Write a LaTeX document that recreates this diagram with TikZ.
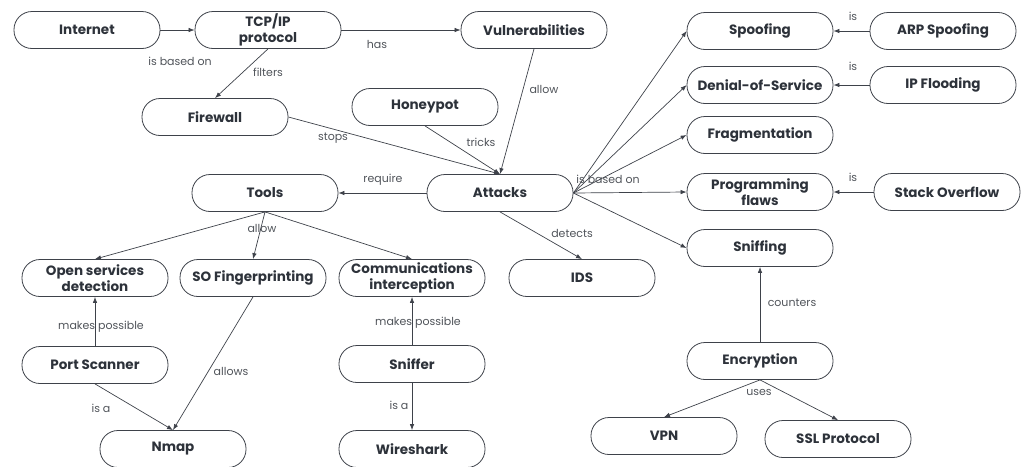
\documentclass[tikz,border=0pt]{standalone}
\usepackage{fontspec}
\setmainfont{Poppins}
\usepackage{tikz}
\usetikzlibrary{arrows.meta}

\definecolor{inkline}{RGB}{62,66,74}
\definecolor{inktext}{RGB}{45,50,58}
\definecolor{labeltext}{RGB}{80,84,90}

\begin{document}
\begin{tikzpicture}[x=1pt, y=-1pt,
    concept/.style={draw=inkline, line width=0.8pt, rounded corners=18pt,
        minimum width=146pt, minimum height=37pt, inner sep=1pt, align=center,
        text=inktext, font=\bfseries\fontsize{13.5}{15.5}\selectfont},
    lbl/.style={text=labeltext, font=\fontsize{11}{12}\selectfont, inner sep=1pt},
    link/.style={draw=inkline, line width=0.7pt, -{Latex[length=6pt,width=4.5pt]}}]
    \useasboundingbox (0,0) rectangle (1027,466);

    % concepts
    \node[concept] (internet) at (87, 30) {Internet};
    \node[concept] (tcp) at (268, 30) {TCP/IP\\protocol};
    \node[concept] (vuln) at (534, 30) {Vulnerabilities};
    \node[concept] (firewall) at (215, 117) {Firewall};
    \node[concept] (honeypot) at (425, 107) {Honeypot};
    \node[concept] (attacks) at (500, 193) {Attacks};
    \node[concept] (tools) at (265, 193) {Tools};
    \node[concept] (osd) at (95, 278) {Open services\\detection};
    \node[concept] (sofp) at (253, 278) {SO Fingerprinting};
    \node[concept] (comm) at (412, 278) {Communications\\interception};
    \node[concept] (ids) at (582, 278) {IDS};
    \node[concept] (portscan) at (95, 365) {Port Scanner};
    \node[concept] (sniffer) at (412, 364) {Sniffer};
    \node[concept] (nmap) at (173, 449) {Nmap};
    \node[concept] (wireshark) at (412, 449) {Wireshark};
    \node[concept] (spoofing) at (760, 31) {Spoofing};
    \node[concept] (dos) at (760, 85) {Denial-of-Service};
    \node[concept] (frag) at (760, 135) {Fragmentation};
    \node[concept] (progflaws) at (760, 192) {Programming\\flaws};
    \node[concept] (sniffing) at (760, 248) {Sniffing};
    \node[concept] (arp) at (943, 31) {ARP Spoofing};
    \node[concept] (ipflood) at (943, 85) {IP Flooding};
    \node[concept] (stackov) at (947, 192) {Stack Overflow};
    \node[concept] (encryption) at (760, 361) {Encryption};
    \node[concept] (vpn) at (664, 436) {VPN};
    \node[concept] (ssl) at (838, 439) {SSL Protocol};

    % links
    \draw[link] (internet.east) -- (tcp.west);
    \draw[link] (tcp.east) -- (vuln.west);
    \draw[link] (tcp.south) -- (firewall.north);
    \draw[link] (firewall.east) -- (attacks.north);
    \draw[link] (honeypot.south) -- (attacks.north);
    \draw[link] (vuln.south) -- (attacks.north);
    \draw[link] (attacks.west) -- (tools.east);
    \draw[link] (attacks.south) -- (ids.north);
    \draw[link] (attacks.east) -- (spoofing.west);
    \draw[link] (attacks.east) -- (dos.west);
    \draw[link] (attacks.east) -- (frag.west);
    \draw[link] (attacks.east) -- (progflaws.west);
    \draw[link] (attacks.east) -- (sniffing.west);
    \draw[link] (arp.west) -- (spoofing.east);
    \draw[link] (ipflood.west) -- (dos.east);
    \draw[link] (stackov.west) -- (progflaws.east);
    \draw[link] (tools.south) -- (osd.north);
    \draw[link] (tools.south) -- (sofp.north);
    \draw[link] (tools.south) -- (comm.north);
    \draw[link] (portscan.north) -- (osd.south);
    \draw[link] (portscan.south) -- (nmap.north);
    \draw[link] (sofp.south) -- (nmap.north);
    \draw[link] (sniffer.north) -- (comm.south);
    \draw[link] (sniffer.south) -- (wireshark.north);
    \draw[link] (encryption.north) -- (sniffing.south);
    \draw[link] (encryption.south) -- (vpn.north);
    \draw[link] (encryption.south) -- (ssl.north);

    % link labels
    \node[lbl] (l-basedon) at (180, 61) {is based on};
    \node[lbl] (l-has) at (377, 44) {has};
    \node[lbl] (l-filters) at (268, 72) {filters};
    \node[lbl] (l-stops) at (333, 138) {stops};
    \node[lbl] (l-tricks) at (481, 142) {tricks};
    \node[lbl] (l-allow) at (544, 89) {allow};
    \node[lbl] (l-require) at (383, 180) {require};
    \node[lbl] (l-attbased) at (608, 179) {is based on};
    \node[lbl] (l-detects) at (572, 233) {detects};
    \node[lbl] (l-toolsallow) at (262, 228) {allow};
    \node[lbl] (l-mpos1) at (101, 327) {makes possible};
    \node[lbl] (l-isa1) at (101, 408) {is a};
    \node[lbl] (l-allows) at (231, 371) {allows};
    \node[lbl] (l-mpos2) at (418, 323) {makes possible};
    \node[lbl] (l-isa2) at (399, 405) {is a};
    \node[lbl] (l-is1) at (853, 16) {is};
    \node[lbl] (l-is2) at (853, 66) {is};
    \node[lbl] (l-is3) at (853, 177) {is};
    \node[lbl] (l-counters) at (792, 303) {counters};
    \node[lbl] (l-uses) at (759, 392) {uses};
\end{tikzpicture}
\end{document}
